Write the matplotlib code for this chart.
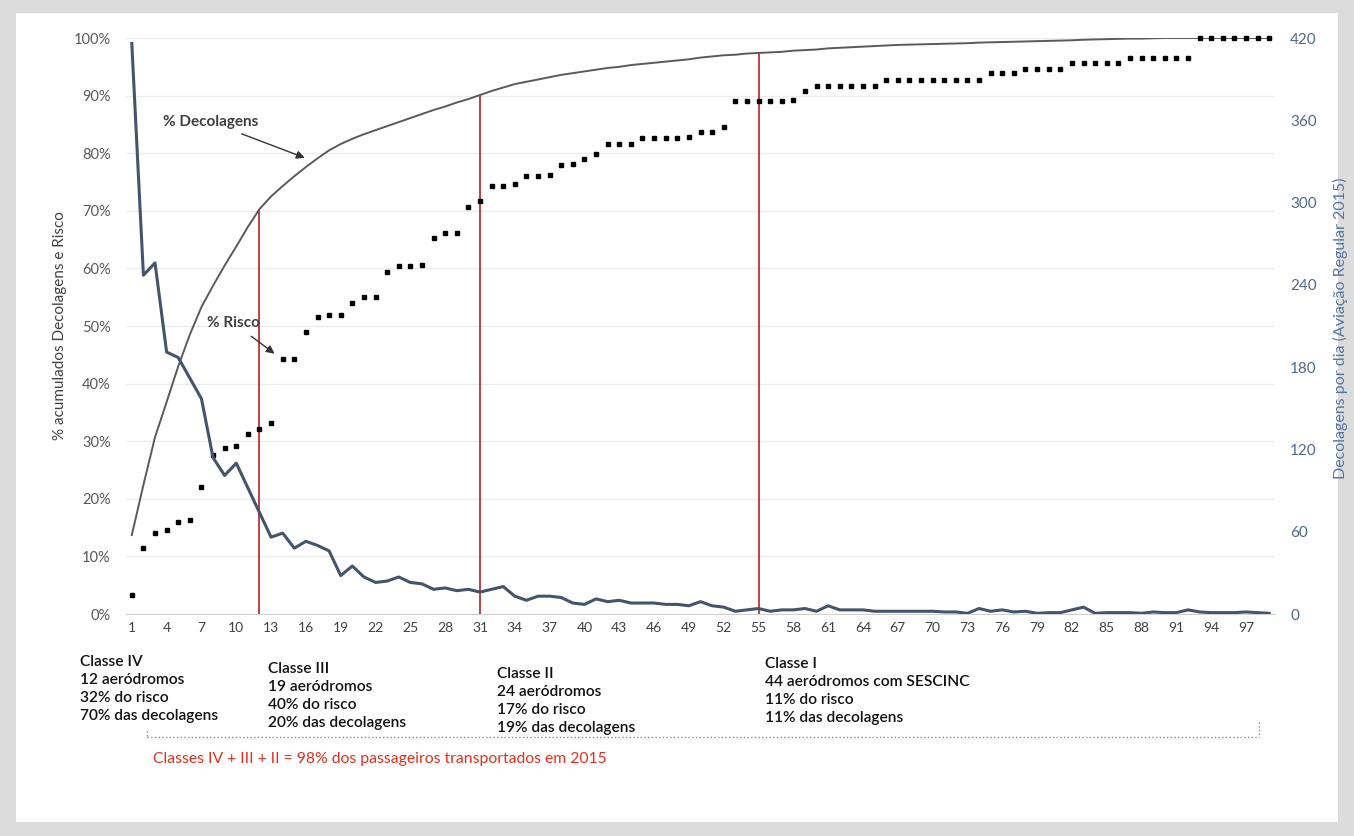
import matplotlib
matplotlib.use("Agg")
import matplotlib.pyplot as plt
from matplotlib.patches import Rectangle
from matplotlib.lines import Line2D

plt.rcParams['font.family'] = ['Lato', 'DejaVu Sans']

# ---------------- data ----------------
aerodromos = list(range(1, 100))
x_tick_labels = list(range(1, 100, 3))

decolagens_dia = [416, 247, 256, 191, 187, 172, 157, 114, 101, 110,
                  92, 74, 56, 59, 48, 53, 50, 46, 28, 35,
                  27, 23, 24, 27, 23, 22, 18, 19, 17, 18,
                  16, 18, 20, 13, 10, 13, 13, 12, 8, 7,
                  11, 9, 10, 8, 8, 8, 7, 7, 6, 9,
                  6, 5, 2, 3, 4, 2, 3, 3, 4, 2,
                  6, 3, 3, 3, 2, 2, 2, 2, 2, 2,
                  1.5, 1.5, 0.5, 4, 2, 3, 1.5, 2, 0.5, 1,
                  1, 3, 5, 0.5, 1, 1, 1, 0.5, 1.5, 1,
                  1, 3, 1.5, 1, 1, 1, 1.5, 1, 0.5]

pct_decolagens = [13.7, 22.4, 30.7, 36.8, 43.0, 48.5, 53.3, 57.0, 60.5, 63.8,
                  67.2, 70.3, 72.5, 74.3, 76.0, 77.6, 79.1, 80.5, 81.6, 82.5,
                  83.3, 84.0, 84.7, 85.4, 86.1, 86.8, 87.5, 88.1, 88.8, 89.4,
                  90.1, 90.8, 91.4, 92.0, 92.4, 92.8, 93.2, 93.6, 93.9, 94.2,
                  94.5, 94.8, 95.0, 95.3, 95.5, 95.7, 95.9, 96.1, 96.3, 96.6,
                  96.8, 97.0, 97.1, 97.3, 97.4, 97.5, 97.6, 97.8, 97.9, 98.0,
                  98.2, 98.3, 98.4, 98.5, 98.6, 98.7, 98.8, 98.85, 98.9, 98.95,
                  99.0, 99.05, 99.1, 99.2, 99.25, 99.3, 99.35, 99.4, 99.45, 99.5,
                  99.55, 99.6, 99.7, 99.75, 99.8, 99.85, 99.9, 99.9, 99.95, 100,
                  100, 100, 100, 100, 100, 100, 100, 100, 100]

pct_risco = [3.3, 11.5, 14.0, 14.6, 16.0, 16.3, 22.0, 27.6, 28.8, 29.2,
             31.2, 32.1, 33.2, 44.3, 44.3, 49.0, 51.6, 51.9, 51.9, 54.0,
             55.0, 55.0, 59.4, 60.4, 60.4, 60.6, 65.3, 66.1, 66.1, 70.7,
             71.7, 74.3, 74.3, 74.7, 76.0, 76.0, 76.2, 78.0, 78.1, 79.0,
             79.9, 81.6, 81.6, 81.6, 82.6, 82.6, 82.6, 82.6, 82.8, 83.7,
             83.7, 84.5, 89.1, 89.1, 89.1, 89.1, 89.1, 89.2, 90.8, 91.7,
             91.7, 91.7, 91.7, 91.7, 91.7, 92.7, 92.7, 92.7, 92.7, 92.7,
             92.7, 92.7, 92.7, 92.7, 93.9, 93.9, 93.9, 94.7, 94.7, 94.7,
             94.7, 95.6, 95.6, 95.6, 95.6, 95.6, 96.5, 96.5, 96.5, 96.5,
             96.5, 96.5, 100, 100, 100, 100, 100, 100, 100]

limites_classes = [12, 31, 55]
left_ticks = [0, 10, 20, 30, 40, 50, 60, 70, 80, 90, 100]
right_ticks = [0, 60, 120, 180, 240, 300, 360, 420]

classes_texto = [
    "Classe IV\n12 aeródromos\n32% do risco\n70% das decolagens",
    "Classe III\n19 aeródromos\n40% do risco\n20% das decolagens",
    "Classe II\n24 aeródromos\n17% do risco\n19% das decolagens",
    "Classe I\n44 aeródromos com SESCINC\n11% do risco\n11% das decolagens",
]
nota = "Classes IV + III + II = 98% dos passageiros transportados em 2015"

# ---------------- figure ----------------
W, H = 1354, 836
fig = plt.figure(figsize=(W / 100, H / 100), dpi=100)
fig.patch.set_facecolor('#dcdcdc')
fig.add_artist(Rectangle((16 / W, 1 - 822 / H), (1338 - 16) / W, (822 - 13) / H,
                         transform=fig.transFigure, facecolor='white',
                         edgecolor='none', zorder=0))

def fx(px):
    return px / W

def fy(py):
    return 1 - py / H

ax = fig.add_axes([fx(126), fy(614), (1275 - 126) / W, (614 - 38) / H])
ax.set_facecolor('none')
ax.set_xlim(0.5, 99.5)
ax.set_ylim(0, 100)
for s in ['top', 'right', 'left']:
    ax.spines[s].set_visible(False)
ax.spines['bottom'].set_color('#d0d0d0')

ax.set_yticks(left_ticks)
ax.set_yticklabels([f"{v}%" for v in left_ticks], color='#595959', fontsize=10.5)
ax.set_xticks(x_tick_labels)
ax.set_xticklabels([str(v) for v in x_tick_labels], color='#404040', fontsize=10)
ax.tick_params(axis='y', length=0, pad=11)
ax.tick_params(axis='x', length=0, pad=6)
ax.grid(axis='y', color='#ececec', linewidth=1)
ax.set_axisbelow(True)

# red class boundaries
for b in limites_classes:
    ax.vlines(b, 0, pct_decolagens[b - 1], color='#b22222', linewidth=1.2, zorder=2)

ax.plot(aerodromos, pct_decolagens, color='#5a5a5a', linewidth=1.4, zorder=3)
ax.plot(aerodromos, pct_risco, linestyle='none', marker='s', markersize=2.6,
        color='black', zorder=4, clip_on=False)

ax.annotate("% Decolagens", xy=(15.9, 79.2), xytext=(3.7, 85.4),
            fontsize=11, fontweight='bold', color='#404040', va='center', ha='left',
            arrowprops=dict(arrowstyle='-|>', color='#333333', lw=1,
                            mutation_scale=12, shrinkA=4, shrinkB=0))
ax.annotate("% Risco", xy=(13.3, 45.2), xytext=(7.5, 50.5),
            fontsize=11, fontweight='bold', color='#404040', va='center', ha='left',
            arrowprops=dict(arrowstyle='-|>', color='#333333', lw=1,
                            mutation_scale=12, shrinkA=4, shrinkB=0))

ax2 = ax.twinx()
ax2.set_ylim(0, 420)
for s in ['top', 'right', 'left', 'bottom']:
    ax2.spines[s].set_visible(False)
ax2.set_yticks(right_ticks)
ax2.set_yticklabels([str(v) for v in right_ticks], color='#50698a', fontsize=11)
ax2.tick_params(axis='y', length=0, pad=11)
ax2.plot(aerodromos, decolagens_dia, color='#44546a', linewidth=2.2, zorder=5)

fig.text(fx(60), fy(326), "% acumulados Decolagens e Risco", rotation=90,
         ha='center', va='center', fontsize=11, color='#404040')
fig.text(fx(1340), fy(328), "Decolagens por dia (Aviação Regular 2015)", rotation=90,
         ha='center', va='center', fontsize=11.5, color='#5677a0')

# class descriptions
block_pos = [(80, 655), (268, 662), (497, 667), (765, 657)]
for (px, py), t in zip(block_pos, classes_texto):
    fig.text(fx(px), fy(py), t, ha='left', va='top', fontsize=11.2,
             fontweight='semibold', color='#111111', linespacing=1.36)

# dotted bracket
fig.add_artist(Line2D([fx(147), fx(1259)], [fy(737), fy(737)], transform=fig.transFigure,
                      linestyle=':', color='#8a8a8a', linewidth=1))
fig.add_artist(Line2D([fx(1259), fx(1259)], [fy(722), fy(737)], transform=fig.transFigure,
                      linestyle=':', color='#8a8a8a', linewidth=1))
fig.add_artist(Line2D([fx(147), fx(147)], [fy(731), fy(737)], transform=fig.transFigure,
                      linestyle=':', color='#8a8a8a', linewidth=1))

fig.text(fx(153), fy(759), nota, ha='left', va='center', fontsize=11.3, color='#e0301e')

fig.savefig("out.png", dpi=100, facecolor=fig.get_facecolor())
